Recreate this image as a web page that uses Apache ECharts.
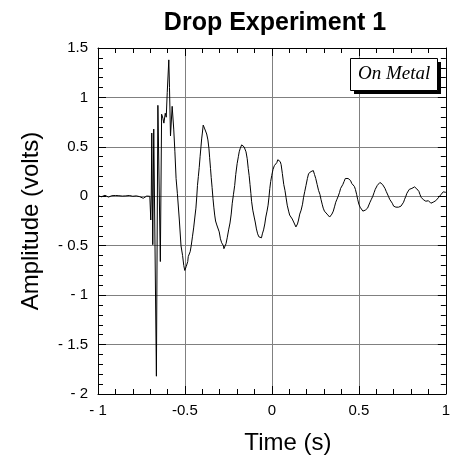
<!DOCTYPE html>
<html>
<head>
<meta charset="utf-8">
<script src="https://cdn.jsdelivr.net/npm/echarts@6/dist/echarts.min.js"></script>
<style>
html,body{margin:0;padding:0;background:#fff;}
#chart{width:453px;height:460px;}
</style>
</head>
<body>
<div id="chart"></div>
<script>
// ---- data ----
const chartTitle = 'Drop Experiment 1';
const annotation = 'On Metal';
const xAxisName = 'Time (s)';
const yAxisName = 'Amplitude (volts)';
const xTickLabels = ['- 1', '-0.5', '0', '0.5', '1'];
const yTickLabels = ['- 2', '- 1.5', '- 1', '- 0.5', '0', '0.5', '1', '1.5'];

// [time (s), amplitude (volts)] before the impact
const baseline = [
  [-1.00, 0.005], [-0.99, 0.000], [-0.98, -0.005], [-0.97, 0.002], [-0.96, 0.010],
  [-0.95, 0.000], [-0.94, -0.008], [-0.93, 0.003], [-0.92, 0.006], [-0.91, -0.004],
  [-0.90, 0.008], [-0.89, 0.000], [-0.88, 0.006], [-0.87, -0.010], [-0.86, 0.002],
  [-0.85, 0.012], [-0.84, 0.004], [-0.83, -0.006], [-0.82, 0.008], [-0.81, 0.012],
  [-0.80, 0.000], [-0.79, -0.010], [-0.78, 0.004], [-0.77, 0.006], [-0.76, -0.004],
  [-0.75, -0.012], [-0.74, -0.020], [-0.73, -0.010], [-0.72, 0.002], [-0.71, -0.006],
  [-0.702, 0.000]
];

// impact spikes
const impact = [
  [-0.6965, -0.24], [-0.6937, 0.00], [-0.6908, 0.64], [-0.6851, -0.49], [-0.6795, 0.68],
  [-0.6642, -1.82], [-0.6557, 0.92], [-0.6416, -0.66], [-0.6342, 0.83], [-0.6268, 0.79],
  [-0.6212, 0.74], [-0.6133, 0.84], [-0.6076, 0.80], [-0.6019, 1.05], [-0.5929, 1.38],
  [-0.5889, 1.10], [-0.5832, 0.61], [-0.5736, 0.91], [-0.5646, 0.68], [-0.5578, 0.45],
  [-0.5510, 0.18], [-0.5436, 0.03], [-0.5323, -0.24], [-0.5227, -0.50], [-0.5136, -0.60],
  [-0.5068, -0.70], [-0.5011, -0.75], [-0.4972, -0.77]
];

// damped ring-down
const ringdown = [
  [-0.4926,-0.71],[-0.490,-0.73],[-0.487,-0.70],[-0.484,-0.66],[-0.481,-0.61],[-0.476,-0.60],[-0.470,-0.56],[-0.464,-0.50],
  [-0.457,-0.41],[-0.450,-0.32],[-0.443,-0.21],[-0.437,-0.12],[-0.432,0.00],[-0.428,0.11],[-0.423,0.20],[-0.418,0.29],
  [-0.413,0.40],[-0.408,0.50],[-0.404,0.58],[-0.400,0.64],[-0.395,0.72],[-0.391,0.73],[-0.388,0.69],[-0.385,0.70],
  [-0.380,0.68],[-0.375,0.63],[-0.368,0.57],[-0.362,0.48],[-0.358,0.39],[-0.353,0.28],[-0.349,0.19],[-0.344,0.09],
  [-0.339,-0.02],[-0.334,-0.11],[-0.329,-0.19],[-0.324,-0.25],[-0.317,-0.29],[-0.310,-0.31],[-0.303,-0.36],[-0.296,-0.43],
  [-0.289,-0.47],[-0.283,-0.49],[-0.279,-0.50],[-0.276,-0.53],[-0.273,-0.55],[-0.270,-0.52],[-0.264,-0.48],[-0.257,-0.42],
  [-0.249,-0.34],[-0.241,-0.27],[-0.234,-0.18],[-0.228,-0.07],[-0.221,0.02],[-0.214,0.11],[-0.208,0.22],[-0.200,0.33],
  [-0.193,0.40],[-0.188,0.45],[-0.183,0.48],[-0.178,0.49],[-0.174,0.52],[-0.167,0.51],[-0.160,0.50],[-0.155,0.49],
  [-0.149,0.45],[-0.142,0.38],[-0.136,0.28],[-0.131,0.21],[-0.126,0.12],[-0.121,0.03],[-0.117,-0.05],[-0.110,-0.14],
  [-0.102,-0.21],[-0.096,-0.26],[-0.089,-0.33],[-0.082,-0.38],[-0.075,-0.41],[-0.070,-0.41],[-0.066,-0.43],[-0.060,-0.42],
  [-0.055,-0.38],[-0.048,-0.34],[-0.041,-0.28],[-0.035,-0.21],[-0.028,-0.15],[-0.022,-0.09],[-0.017,-0.01],[-0.012,0.08],
  [-0.007,0.15],[-0.001,0.21],[0.006,0.27],[0.014,0.31],[0.021,0.33],[0.028,0.34],[0.034,0.37],[0.039,0.36],
  [0.043,0.35],[0.048,0.35],[0.053,0.32],[0.060,0.23],[0.068,0.12],[0.075,0.06],[0.081,-0.01],[0.088,-0.09],
  [0.096,-0.15],[0.102,-0.19],[0.109,-0.21],[0.117,-0.23],[0.125,-0.26],[0.131,-0.28],[0.138,-0.31],[0.142,-0.30],
  [0.147,-0.28],[0.153,-0.24],[0.160,-0.18],[0.168,-0.14],[0.176,-0.08],[0.182,-0.01],[0.189,0.05],[0.196,0.11],
  [0.204,0.18],[0.211,0.23],[0.219,0.25],[0.225,0.25],[0.232,0.27],[0.238,0.26],[0.245,0.22],[0.252,0.18],
  [0.260,0.12],[0.268,0.06],[0.276,0.02],[0.282,-0.03],[0.289,-0.08],[0.295,-0.12],[0.302,-0.15],[0.309,-0.17],
  [0.317,-0.18],[0.324,-0.19],[0.332,-0.21],[0.338,-0.20],[0.345,-0.18],[0.353,-0.15],[0.361,-0.10],[0.367,-0.06],
  [0.374,-0.03],[0.381,0.00],[0.389,0.04],[0.395,0.08],[0.402,0.10],[0.408,0.12],[0.415,0.15],[0.422,0.18],
  [0.430,0.19],[0.438,0.18],[0.446,0.17],[0.452,0.16],[0.459,0.13],[0.466,0.11],[0.474,0.10],[0.480,0.07],
  [0.487,0.02],[0.493,-0.03],[0.500,-0.08],[0.507,-0.11],[0.515,-0.13],[0.523,-0.15],[0.531,-0.15],[0.537,-0.14],
  [0.544,-0.13],[0.550,-0.12],[0.557,-0.10],[0.564,-0.06],[0.572,-0.03],[0.580,0.00],[0.588,0.04],[0.594,0.07],
  [0.600,0.09],[0.606,0.11],[0.613,0.13],[0.621,0.14],[0.629,0.13],[0.636,0.12],[0.644,0.10],[0.650,0.08],
  [0.657,0.05],[0.663,0.03],[0.670,0.00],[0.677,-0.03],[0.685,-0.05],[0.692,-0.07],[0.700,-0.10],[0.706,-0.11],
  [0.713,-0.11],[0.720,-0.10],[0.728,-0.11],[0.735,-0.12],[0.742,-0.10],[0.749,-0.08],[0.757,-0.06],[0.763,-0.03],
  [0.770,0.00],[0.776,0.03],[0.783,0.05],[0.790,0.07],[0.798,0.08],[0.805,0.08],[0.813,0.09],[0.820,0.095],
  [0.827,0.085],[0.833,0.075],[0.840,0.07],[0.845,0.05],[0.851,0.02],[0.858,-0.01],[0.865,-0.03],[0.871,-0.035],
  [0.878,-0.04],[0.885,-0.05],[0.893,-0.05],[0.900,-0.045],[0.908,-0.06],[0.914,-0.07],[0.921,-0.07],[0.927,-0.06],
  [0.934,-0.05],[0.942,-0.045],[0.950,-0.03],[0.957,-0.015],[0.964,0.00],[0.971,0.015],[0.978,0.03],[0.985,0.045],
  [0.991,0.05],[1.000,0.04]
];

// ---- chart ----
const sans = 'Liberation Sans, Arial, sans-serif';
const chart = echarts.init(document.getElementById('chart'), null, {renderer: 'canvas'});
const seriesData = baseline.concat(impact, ringdown);
const X_MIN = -1, X_MAX = 1, X_INT = 0.5;
const Y_MIN = -2, Y_MAX = 1.5, Y_INT = 0.5;

function tickLabel(list, min, step) {
  return v => {
    const i = Math.round((v - min) / step);
    return list[i] !== undefined ? list[i] : '';
  };
}

const frameLine = {show: true, onZero: false, lineStyle: {color: '#000', width: 1}};
const ticks = {show: true, inside: true, length: 8, lineStyle: {color: '#000', width: 1}};
const minor = {show: true, splitNumber: 5, length: 5, lineStyle: {color: '#000', width: 1}};

chart.setOption({
  animation: false,
  backgroundColor: '#fff',
  grid: {left: 98, right: 6, top: 48, bottom: 60, containLabel: false},
  xAxis: [
    {
      type: 'value', min: X_MIN, max: X_MAX, interval: X_INT, position: 'bottom',
      axisLine: frameLine, axisTick: ticks, minorTick: minor,
      splitLine: {show: true, lineStyle: {color: '#808080', width: 1}},
      axisLabel: {formatter: tickLabel(xTickLabels, X_MIN, X_INT), fontFamily: sans, fontSize: 15, color: '#000', margin: 9},
      name: xAxisName, nameLocation: 'middle', nameGap: 37,
      nameTextStyle: {fontFamily: sans, fontSize: 24, color: '#000', padding: [0, 0, 0, 32]}
    },
    {
      type: 'value', min: X_MIN, max: X_MAX, interval: X_INT, position: 'top',
      axisLine: frameLine, axisTick: ticks, minorTick: minor,
      splitLine: {show: false}, axisLabel: {show: false}
    }
  ],
  yAxis: [
    {
      type: 'value', min: Y_MIN, max: Y_MAX, interval: Y_INT, position: 'left',
      axisLine: frameLine, axisTick: ticks, minorTick: minor,
      splitLine: {show: true, lineStyle: {color: '#808080', width: 1}},
      axisLabel: {formatter: tickLabel(yTickLabels, Y_MIN, Y_INT), fontFamily: sans, fontSize: 15, color: '#000', margin: 10},
      name: yAxisName, nameLocation: 'middle', nameGap: 55, nameRotate: 90,
      nameTextStyle: {fontFamily: sans, fontSize: 24, color: '#000'}
    },
    {
      type: 'value', min: Y_MIN, max: Y_MAX, interval: Y_INT, position: 'right',
      axisLine: frameLine, axisTick: ticks, minorTick: minor,
      splitLine: {show: false}, axisLabel: {show: false}
    }
  ],
  series: [{
    type: 'line',
    xAxisIndex: 0, yAxisIndex: 0,
    data: seriesData,
    showSymbol: false,
    symbol: 'none',
    lineStyle: {color: '#000', width: 1},
    z: 3
  }],
  graphic: [
    {type: 'text', x: 275, y: 11, z: 12, style: {text: chartTitle, align: 'center', verticalAlign: 'top', font: 'bold 25px "Liberation Sans", Arial, sans-serif', fill: '#000'}},
    {type: 'rect', left: 354, top: 62, z: 10, shape: {width: 87, height: 32}, style: {fill: '#000'}},
    {type: 'rect', left: 350, top: 58, z: 11, shape: {width: 87, height: 32}, style: {fill: '#fff', stroke: '#000', lineWidth: 1}},
    {type: 'text', left: 358, top: 64, z: 12, style: {text: annotation, font: 'italic 19px "Liberation Serif", "Times New Roman", serif', fill: '#000'}}
  ]
});
</script>
</body>
</html>
